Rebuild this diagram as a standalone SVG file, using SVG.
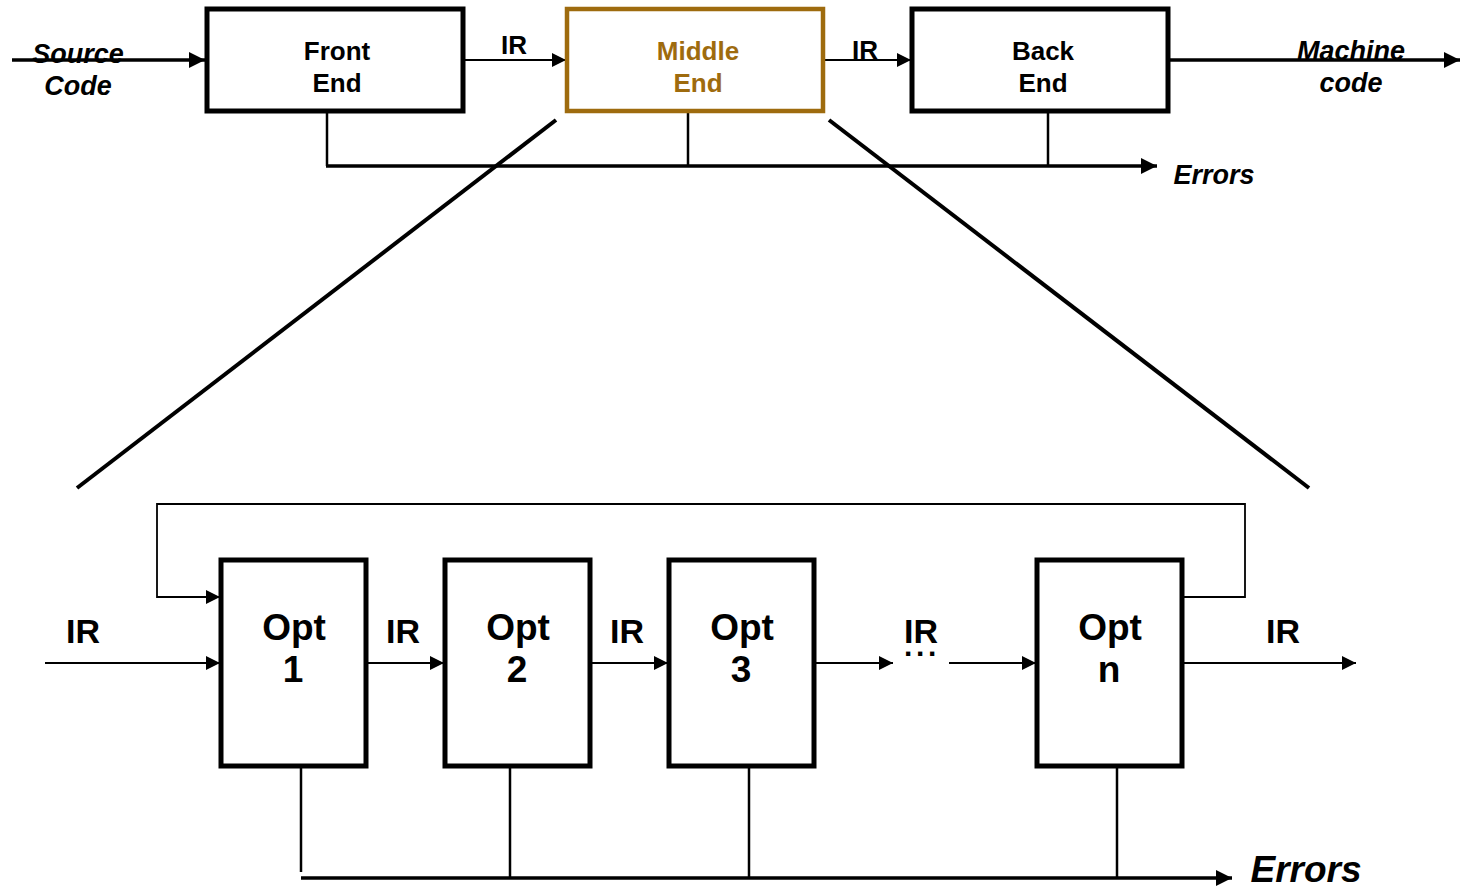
<svg xmlns="http://www.w3.org/2000/svg" width="1460" height="887" viewBox="0 0 1460 887">
  <style>
    .box { fill: #ffffff; stroke: #000000; stroke-width: 5; }
    .mid { fill: #ffffff; stroke: #9E6B0E; stroke-width: 4.5; }
    .thin { fill: none; stroke: #000000; stroke-width: 1.8; }
    .mthin { fill: none; stroke: #000000; stroke-width: 2.5; }
    .thick { fill: none; stroke: #000000; stroke-width: 3.5; }
    .diag { fill: none; stroke: #000000; stroke-width: 4; }
    .lbl { font-family: "Liberation Sans", Arial, sans-serif; fill: #000000; text-anchor: middle; font-weight: bold; }
    .t26 { font-size: 26px; }
    .t27 { font-size: 27px; }
    .t34 { font-size: 34px; }
    .t37 { font-size: 37px; }
    .it { font-style: italic; }
    .gold { fill: #9E6B0E; }
  </style>
  <defs>
    <marker id="ah" viewBox="0 0 10 10" refX="10" refY="5" markerWidth="14" markerHeight="14" markerUnits="userSpaceOnUse" orient="auto">
      <path d="M0,0 L10,5 L0,10 Z" fill="#000000"/>
    </marker>
    <marker id="ahL" viewBox="0 0 10 10" refX="10" refY="5" markerWidth="16" markerHeight="16" markerUnits="userSpaceOnUse" orient="auto">
      <path d="M0,0 L10,5 L0,10 Z" fill="#000000"/>
    </marker>
  </defs>

  <!-- connectors -->
  <g id="connectors">
    <!-- top pipeline -->
    <line class="thick" x1="12" y1="60" x2="205" y2="60" marker-end="url(#ahL)"/>
    <line class="thin" x1="463" y1="60" x2="566" y2="60" marker-end="url(#ah)"/>
    <line class="thin" x1="823" y1="60" x2="911" y2="60" marker-end="url(#ah)"/>
    <line class="thick" x1="1168" y1="60" x2="1460" y2="60" marker-end="url(#ahL)"/>
    <!-- top error bus -->
    <polyline class="mthin" points="327,111 327,166"/>
    <polyline class="mthin" points="688,111 688,166"/>
    <polyline class="mthin" points="1048,111 1048,166"/>
    <line class="thick" x1="326" y1="166" x2="1157" y2="166" marker-end="url(#ahL)"/>
    <!-- zoom lines -->
    <line class="diag" x1="556" y1="120" x2="77" y2="488"/>
    <line class="diag" x1="829" y1="120" x2="1309" y2="488"/>
    <!-- optimizer chain -->
    <line class="thin" x1="45" y1="663" x2="220" y2="663" marker-end="url(#ah)"/>
    <line class="thin" x1="366" y1="663" x2="444" y2="663" marker-end="url(#ah)"/>
    <line class="thin" x1="590" y1="663" x2="668" y2="663" marker-end="url(#ah)"/>
    <line class="thin" x1="814" y1="663" x2="893" y2="663" marker-end="url(#ah)"/>
    <line class="thin" x1="949" y1="663" x2="1036" y2="663" marker-end="url(#ah)"/>
    <line class="thin" x1="1182" y1="663" x2="1356" y2="663" marker-end="url(#ah)"/>
    <!-- feedback loop -->
    <polyline class="thin" points="1182,597 1245,597 1245,504 157,504 157,597 220,597" marker-end="url(#ah)"/>
    <!-- bottom error bus -->
    <line class="mthin" x1="301" y1="766" x2="301" y2="872"/>
    <line class="mthin" x1="510" y1="766" x2="510" y2="878"/>
    <line class="mthin" x1="749" y1="766" x2="749" y2="878"/>
    <line class="mthin" x1="1117" y1="766" x2="1117" y2="878"/>
    <line class="thick" x1="301" y1="878" x2="1232" y2="878" marker-end="url(#ahL)"/>
  </g>

  <!-- edge labels -->
  <g id="labels">
    <text class="lbl t27 it" x="78" y="63">Source</text>
    <text class="lbl t27 it" x="78" y="95">Code</text>
    <text class="lbl t26" x="514" y="54">IR</text>
    <text class="lbl t26" x="865" y="59">IR</text>
    <text class="lbl t27 it" x="1351" y="60">Machine</text>
    <text class="lbl t27 it" x="1351" y="92">code</text>
    <text class="lbl t27 it" x="1214" y="184">Errors</text>
    <text class="lbl t34" x="83" y="643">IR</text>
    <text class="lbl t34" x="403" y="643">IR</text>
    <text class="lbl t34" x="627" y="643">IR</text>
    <text class="lbl t34" x="921" y="643">IR</text>
    <text class="lbl" font-size="30" letter-spacing="3.6" x="922" y="656">...</text>
    <text class="lbl t34" x="1283" y="643">IR</text>
    <text class="lbl t37 it" x="1306" y="882">Errors</text>
  </g>

  <g id="front-end">
    <rect class="box" x="207" y="9" width="256" height="102"/>
    <text class="lbl t26" x="337" y="60">Front</text>
    <text class="lbl t26" x="337" y="92">End</text>
  </g>
  <g id="middle-end">
    <rect class="mid" x="567" y="9" width="256" height="102"/>
    <text class="lbl t26 gold" x="698" y="60">Middle</text>
    <text class="lbl t26 gold" x="698" y="92">End</text>
  </g>
  <g id="back-end">
    <rect class="box" x="912" y="9" width="256" height="102"/>
    <text class="lbl t26" x="1043" y="60">Back</text>
    <text class="lbl t26" x="1043" y="92">End</text>
  </g>

  <g id="opt-1">
    <rect class="box" x="221" y="560" width="145" height="206"/>
    <text class="lbl t37" x="294" y="640">Opt</text>
    <text class="lbl t37" x="293" y="682">1</text>
  </g>
  <g id="opt-2">
    <rect class="box" x="445" y="560" width="145" height="206"/>
    <text class="lbl t37" x="518" y="640">Opt</text>
    <text class="lbl t37" x="517" y="682">2</text>
  </g>
  <g id="opt-3">
    <rect class="box" x="669" y="560" width="145" height="206"/>
    <text class="lbl t37" x="742" y="640">Opt</text>
    <text class="lbl t37" x="741" y="682">3</text>
  </g>
  <g id="opt-n">
    <rect class="box" x="1037" y="560" width="145" height="206"/>
    <text class="lbl t37" x="1110" y="640">Opt</text>
    <text class="lbl t37" x="1109" y="682">n</text>
  </g>
</svg>
